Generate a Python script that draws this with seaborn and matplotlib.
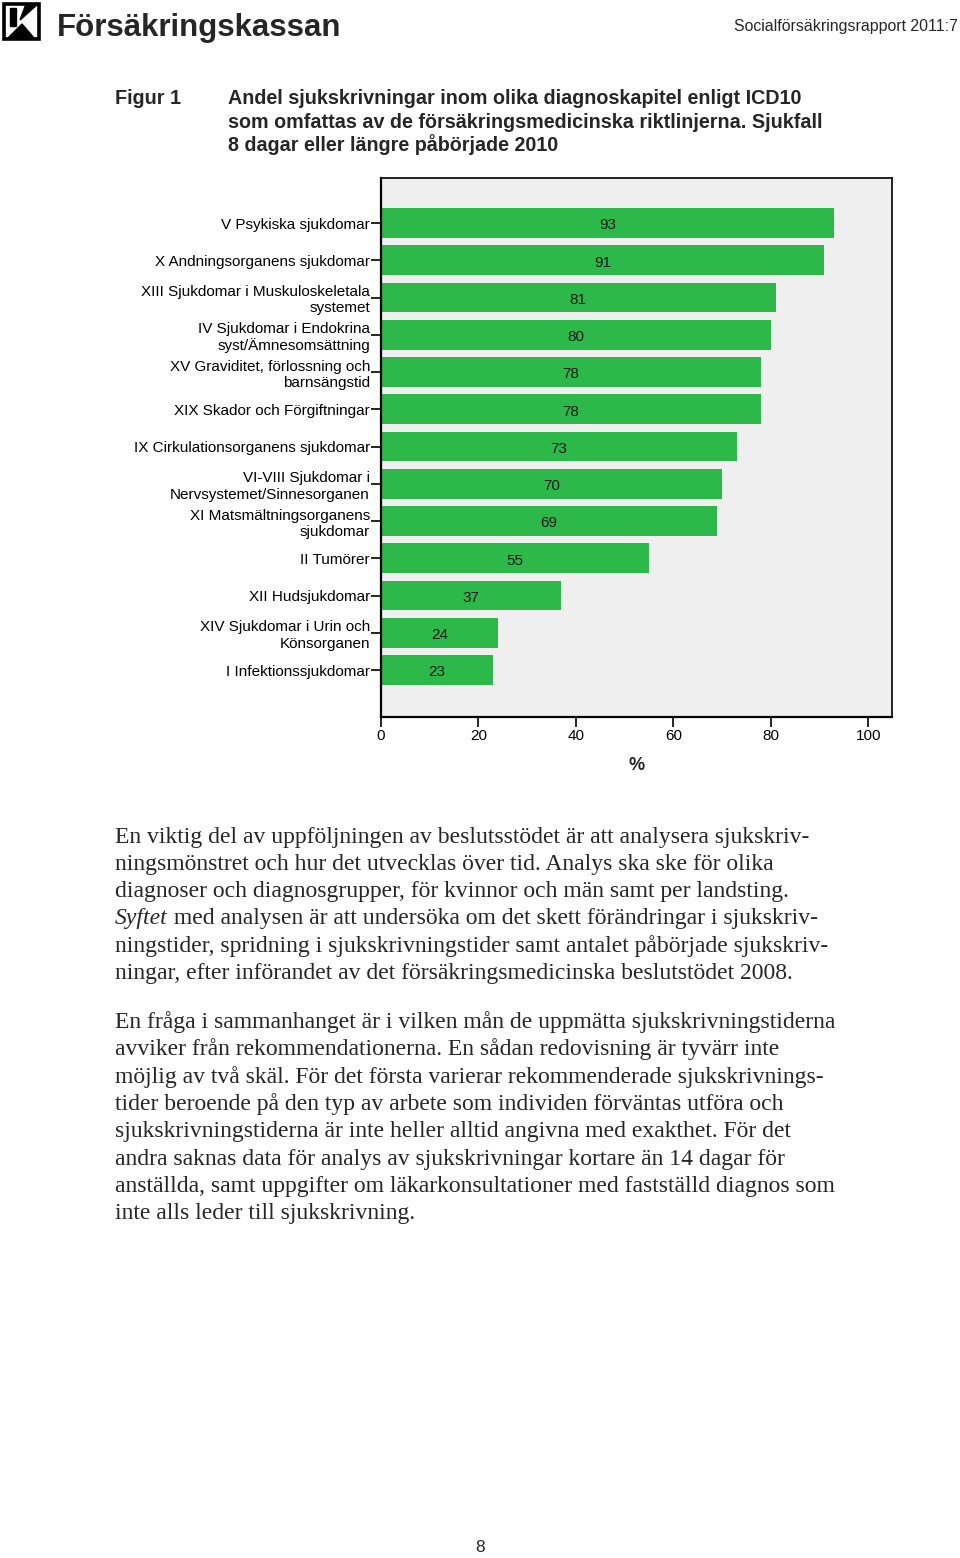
import matplotlib
matplotlib.use("Agg")
import matplotlib.pyplot as plt
import seaborn as sns
import pandas as pd
from matplotlib.patches import Rectangle, Polygon

categories = [
    "V Psykiska sjukdomar",
    "X Andningsorganens sjukdomar",
    "XIII Sjukdomar i Muskuloskeletala\nsystemet",
    "IV Sjukdomar i Endokrina\nsyst/Ämnesomsättning",
    "XV Graviditet, förlossning och\nbarnsängstid",
    "XIX Skador och Förgiftningar",
    "IX Cirkulationsorganens sjukdomar",
    "VI-VIII Sjukdomar i\nNervsystemet/Sinnesorganen",
    "XI Matsmältningsorganens\nsjukdomar",
    "II Tumörer",
    "XII Hudsjukdomar",
    "XIV Sjukdomar i Urin och\nKönsorganen",
    "I Infektionssjukdomar",
]
values = [93, 91, 81, 80, 78, 78, 73, 70, 69, 55, 37, 24, 23]
xticks = [0, 20, 40, 60, 80, 100]

title_lines = [
    "Andel sjukskrivningar inom olika diagnoskapitel enligt ICD10",
    "som omfattas av de försäkringsmedicinska riktlinjerna. Sjukfall",
    "8 dagar eller längre påbörjade 2010",
]
para1 = [
    "En viktig del av uppföljningen av beslutsstödet är att analysera sjukskriv-",
    "ningsmönstret och hur det utvecklas över tid. Analys ska ske för olika",
    "diagnoser och diagnosgrupper, för kvinnor och män samt per landsting.",
    "|Syftet| med analysen är att undersöka om det skett förändringar i sjukskriv-",
    "ningstider, spridning i sjukskrivningstider samt antalet påbörjade sjukskriv-",
    "ningar, efter införandet av det försäkringsmedicinska beslutstödet 2008.",
]
para2 = [
    "En fråga i sammanhanget är i vilken mån de uppmätta sjukskrivningstiderna",
    "avviker från rekommendationerna. En sådan redovisning är tyvärr inte",
    "möjlig av två skäl. För det första varierar rekommenderade sjukskrivnings-",
    "tider beroende på den typ av arbete som individen förväntas utföra och",
    "sjukskrivningstiderna är inte heller alltid angivna med exakthet. För det",
    "andra saknas data för analys av sjukskrivningar kortare än 14 dagar för",
    "anställda, samt uppgifter om läkarkonsultationer med fastställd diagnos som",
    "inte alls leder till sjukskrivning.",
]

df = pd.DataFrame({"cat": categories, "val": values})

sns.set_style("white")
plt.rcParams["font.family"] = ["Liberation Sans", "DejaVu Sans"]

W, H = 960, 1558
fig = plt.figure(figsize=(W / 100, H / 100), dpi=100)

def fx(px):
    return px / W

def fy(py):
    return 1 - py / H

ax = fig.add_axes([fx(381), fy(717), (892 - 381) / W, (717 - 178) / H])
ax.set_facecolor("#efefef")
sns.barplot(data=df, y="cat", x="val", orient="h", color="#2db84a",
            saturation=1, width=0.8, ax=ax, edgecolor="none")
for c in ax.containers:
    labs = ax.bar_label(c, label_type="center", fontsize=11, color="#1a1a1a",
                        padding=0)
    for t in labs:
        t.set_va("center")
        t.set_position((t.get_position()[0], -1.6))
ax.set_xlim(0, 104.9)
ax.set_ylim(len(categories) - 1 + 1.26, -1.21)
ax.set_xticks(xticks)
ax.set_xticklabels([str(t) for t in xticks])
ax.set_xlabel("%", fontsize=13, fontweight="bold", labelpad=10)
ax.set_ylabel("")
ax.tick_params(axis="both", direction="out", length=7, width=1.2,
               color="black", labelsize=11, labelcolor="black")
ax.tick_params(axis="y", pad=1)
ax.tick_params(axis="x", pad=2)
ax.xaxis.set_ticks_position("bottom")
ax.yaxis.set_ticks_position("left")
for s in ax.spines.values():
    s.set_visible(True)
    s.set_color("black")
    s.set_linewidth(1.2)
ax.spines["left"].set_linewidth(1.6)
ax.spines["bottom"].set_linewidth(1.6)

# header
fig.add_artist(Rectangle((fx(4), fy(39)), fx(35), 35 / H, fill=False,
                         edgecolor="black", linewidth=2.6, transform=fig.transFigure))
fig.add_artist(Polygon([(fx(10), fy(8)), (fx(16), fy(8)), (fx(16), fy(26)),
                        (fx(10), fy(26))], closed=True, color="black",
                       transform=fig.transFigure))
fig.add_artist(Polygon([(fx(26), fy(4)), (fx(38), fy(4)), (fx(20), fy(20))],
                       closed=True, color="black", transform=fig.transFigure))
fig.add_artist(Polygon([(fx(8), fy(38)), (fx(22), fy(24)), (fx(34), fy(38))],
                       closed=True, color="black", transform=fig.transFigure))
fig.text(fx(57), fy(28), "Försäkringskassan", fontsize=22.5, fontweight="bold",
         va="center", ha="left")
fig.text(fx(958), fy(27), "Socialförsäkringsrapport 2011:7", fontsize=11.4,
         va="center", ha="right")

# title
fig.text(fx(115), fy(99), "Figur 1", fontsize=14.2, fontweight="bold",
         va="center", ha="left")
for i, line in enumerate(title_lines):
    fig.text(fx(228), fy(99 + 23 * i), line, fontsize=14.2, fontweight="bold",
             va="center", ha="left")

# body text
serif = ["Liberation Serif", "DejaVu Serif"]
renderer = fig.canvas.get_renderer()
BS = 17

def draw_line(x, y, line):
    if line.startswith("|"):
        parts = line[1:].split("|", 1)
        t = fig.text(fx(x), fy(y), parts[0], fontsize=BS, family=serif,
                     style="italic", va="center", ha="left")
        bb = t.get_window_extent(renderer=renderer)
        fig.text(bb.x1 / W, fy(y), parts[1], fontsize=BS, family=serif,
                 va="center", ha="left")
    else:
        fig.text(fx(x), fy(y), line, fontsize=BS, family=serif,
                 va="center", ha="left")

for i, line in enumerate(para1):
    draw_line(115, 837 + 27.3 * i, line)
for i, line in enumerate(para2):
    draw_line(115, 1022 + 27.4 * i, line)

fig.text(fx(480), fy(1548), "8", fontsize=12.5, va="center", ha="center")

fig.savefig("out.png", dpi=100)
